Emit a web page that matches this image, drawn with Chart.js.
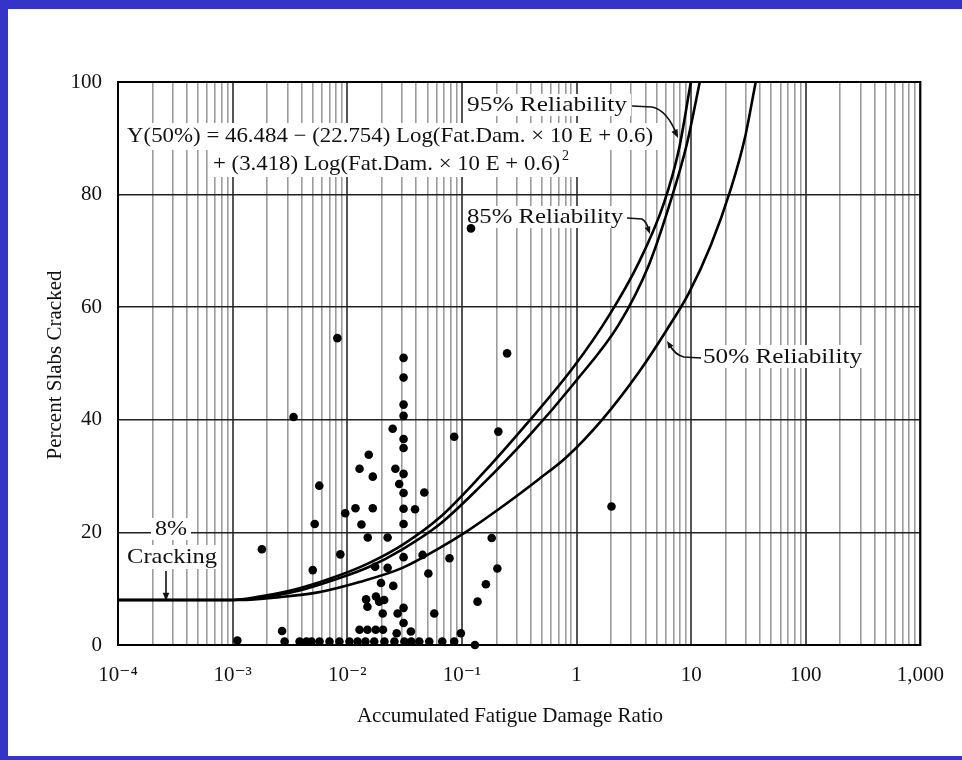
<!DOCTYPE html>
<html>
<head>
<meta charset="utf-8">
<script src="https://cdn.jsdelivr.net/npm/chart.js@4.4.1/dist/chart.umd.min.js"></script>
<style>
  html, body { margin: 0; padding: 0; background: #fff; }
  #wrap { position: relative; width: 962px; height: 760px; }
</style>
</head>
<body>
<div id="wrap"><canvas id="fatigueChart" width="962" height="760"></canvas></div>
<script>
// axes
var xDecades = [1e-4, 1e-3, 1e-2, 1e-1, 1, 10, 100, 1000];
var xDecadeLabels = ['10\u207B\u2074', '10\u207B\u00B3', '10\u207B\u00B2', '10\u207B\u00B9', '1', '10', '100', '1,000'];
var yTicks = [0, 20, 40, 60, 80, 100];

// field sections (fatigue damage, % slabs cracked)
var fieldDamage = [
  0.0011, 0.0018, 0.0027, 0.00284, 0.0034, 0.00384, 0.00441, 0.00488, 0.0050, 0.0052,
  0.00573, 0.0057, 0.0070, 0.0082, 0.0087, 0.00855, 0.0096, 0.01045, 0.0118, 0.0123,
  0.0128, 0.0128, 0.0133, 0.0144, 0.0146, 0.0150, 0.0150, 0.0151, 0.0154, 0.0167,
  0.0167, 0.0172, 0.0175, 0.0177, 0.0178, 0.0190, 0.0197, 0.0204, 0.0205, 0.0210,
  0.0211, 0.0225, 0.0225, 0.0249, 0.0252, 0.0258, 0.0263, 0.0270, 0.0275, 0.0284,
  0.031, 0.031, 0.031, 0.031, 0.031, 0.031, 0.031, 0.031, 0.031, 0.031,
  0.031, 0.031, 0.031, 0.0315, 0.0359, 0.0362, 0.039, 0.0425, 0.0454, 0.047,
  0.051, 0.0519, 0.0574, 0.0674, 0.078, 0.0857, 0.0857, 0.098, 0.12, 0.13,
  0.137, 0.162, 0.182, 0.204, 0.208, 0.248, 2.02
];
var fieldCracked = [
  0.8, 17, 2.5, 0.6, 40.5, 0.6, 0.6, 0.6, 13.3, 21.5,
  0.6, 28.3, 0.6, 54.5, 16.1, 0.6, 23.4, 0.6, 24.3, 0.6,
  31.3, 2.7, 21.4, 0.6, 8.1, 6.8, 2.7, 19.1, 33.8, 29.9,
  24.3, 0.6, 13.9, 2.7, 8.6, 7.7, 11.0, 5.6, 2.7, 8.0,
  0.6, 19.1, 13.7, 38.4, 10.5, 0.6, 31.3, 2.1, 5.6, 28.6,
  51, 47.5, 42.7, 40.7, 36.6, 35, 30.4, 27, 24.2, 21.5,
  15.6, 6.6, 3.9, 0.6, 2.4, 0.6, 24.1, 0.6, 16.0, 27.1,
  12.7, 0.6, 5.6, 0.6, 15.4, 37, 0.6, 2.1, 74, 0,
  7.7, 10.8, 19.0, 13.6, 37.9, 51.8, 24.6
];

// reliability curves
var rel95Damage = [0.0001, 0.001, 0.00172, 0.00384, 0.00857, 0.0156, 0.0303, 0.0636, 0.142, 0.387, 0.953, 1.92, 3.51, 5.79, 7.82, 9.94];
var rel95Cracked = [8, 8, 8.6, 10.1, 12.4, 14.6, 17.8, 22.6, 29.8, 39.8, 49.5, 58.5, 68, 78.5, 88, 100];
var rel85Damage = [0.0001, 0.001, 0.00172, 0.00384, 0.00857, 0.0156, 0.0303, 0.0636, 0.142, 0.387, 0.953, 2.35, 4.28, 6.66, 9.18, 11.9];
var rel85Cracked = [8, 8, 8.4, 9.7, 11.9, 13.9, 17.0, 21.4, 28, 37.2, 46.5, 57, 67.5, 79, 89, 100];
var rel50Damage = [0.0001, 0.00115, 0.00257, 0.0054, 0.0128, 0.0303, 0.0636, 0.107, 0.212, 0.472, 0.811, 1.67, 3.51, 6.14, 9.55, 14.85, 22.2, 29.4, 36.6];
var rel50Cracked = [8, 8, 8.5, 9.3, 11.2, 13.7, 17.2, 20, 24.2, 29.5, 33.3, 40, 48.5, 56, 62.5, 71, 81, 90, 100];

function pairs(xs, ys) {
  return xs.map(function(x, i) { return {x: x, y: ys[i]}; });
}

function isDecade(v) {
  var l = Math.log10(v);
  return Math.abs(l - Math.round(l)) < 1e-9;
}

var SERIF = '"Liberation Serif", "DejaVu Serif", serif';

function fitText(ctx, text, left, cy, width, size) {
  ctx.font = size + 'px ' + SERIF;
  var w = ctx.measureText(text).width;
  ctx.save();
  ctx.translate(left, cy);
  ctx.scale(width / w, 1);
  ctx.textAlign = 'left';
  ctx.textBaseline = 'middle';
  ctx.fillText(text, 0, 0);
  ctx.restore();
}

function arrowHead(ctx, fx, fy, tx, ty, size) {
  var a = Math.atan2(ty - fy, tx - fx);
  ctx.beginPath();
  ctx.moveTo(tx, ty);
  ctx.lineTo(tx - size * Math.cos(a - 0.38), ty - size * Math.sin(a - 0.38));
  ctx.lineTo(tx - size * Math.cos(a + 0.38), ty - size * Math.sin(a + 0.38));
  ctx.closePath();
  ctx.fill();
}

var framePlugin = {
  id: 'frame',
  beforeDraw: function(chart) {
    var ctx = chart.ctx;
    ctx.save();
    ctx.fillStyle = '#fff';
    ctx.fillRect(0, 0, chart.width, chart.height);
    ctx.fillStyle = '#3434c8';
    ctx.fillRect(0, 0, chart.width, 9);
    ctx.fillRect(0, 0, 8, chart.height);
    ctx.fillRect(0, chart.height - 4, chart.width, 4);
    ctx.restore();
  },
  beforeDatasetsDraw: function(chart) {
    var ctx = chart.ctx, a = chart.chartArea;
    ctx.save();
    // white patches behind the lettering
    ctx.fillStyle = '#fff';
    ctx.fillRect(122, 123, 536, 27);
    ctx.fillRect(208, 150, 370, 27);
    ctx.fillRect(463, 94, 168, 22);
    ctx.fillRect(463, 206, 164, 22);
    ctx.fillRect(699, 345, 167, 23);
    ctx.fillRect(151, 518, 40, 22);
    ctx.fillRect(124, 545, 97, 24);

    ctx.fillStyle = '#111';
    fitText(ctx, 'Y(50%) = 46.484 \u2212 (22.754) Log(Fat.Dam. \u00D7 10 E + 0.6)', 127, 136, 526, 21);
    fitText(ctx, '+ (3.418) Log(Fat.Dam. \u00D7 10 E + 0.6)', 213, 164, 347, 21);
    ctx.font = '14px ' + SERIF;
    ctx.textBaseline = 'middle';
    ctx.fillText('2', 562, 156);
    fitText(ctx, '95% Reliability', 467, 105, 160, 21);
    fitText(ctx, '85% Reliability', 467, 217, 156, 21);
    fitText(ctx, '50% Reliability', 703, 357, 159, 21);
    fitText(ctx, '8%', 155, 529, 32, 21);
    fitText(ctx, 'Cracking', 127, 557, 90, 21);

    // leaders
    ctx.strokeStyle = '#111';
    ctx.lineWidth = 1.6;
    ctx.beginPath();
    ctx.moveTo(632, 106); ctx.lineTo(652, 107);
    ctx.quadraticCurveTo(667, 110, 677, 135);
    ctx.stroke();
    arrowHead(ctx, 669, 118, 678, 138, 9);
    ctx.beginPath();
    ctx.moveTo(627, 218); ctx.lineTo(642, 219);
    ctx.quadraticCurveTo(647, 222, 649, 231);
    ctx.stroke();
    arrowHead(ctx, 646, 223, 650, 234, 8);
    ctx.beginPath();
    ctx.moveTo(701, 358); ctx.lineTo(684, 357);
    ctx.quadraticCurveTo(675, 355, 669, 344);
    ctx.stroke();
    arrowHead(ctx, 674, 352, 667, 341, 8);
    ctx.beginPath();
    ctx.moveTo(166, 571); ctx.lineTo(166, 596);
    ctx.stroke();
    arrowHead(ctx, 166, 585, 166, 601, 9);

    // axis titles
    ctx.fillStyle = '#111';
    ctx.font = '21px ' + SERIF;
    ctx.textAlign = 'center';
    ctx.textBaseline = 'middle';
    ctx.fillText('Accumulated Fatigue Damage Ratio', 510, 716);
    ctx.save();
    ctx.translate(55, 365);
    ctx.rotate(-Math.PI / 2);
    ctx.fillText('Percent Slabs Cracked', 0, 0);
    ctx.restore();

    // plot frame
    ctx.strokeStyle = '#000';
    ctx.lineWidth = 2;
    ctx.strokeRect(a.left, a.top, a.right - a.left, a.bottom - a.top);
    ctx.restore();
  }
};

var ctx = document.getElementById('fatigueChart').getContext('2d');
var fatigueChart = new Chart(ctx, {
  type: 'scatter',
  data: {
    datasets: [{
      label: 'Field sections',
      data: pairs(fieldDamage, fieldCracked),
      pointRadius: 4.3,
      pointBackgroundColor: '#000',
      pointBorderWidth: 0,
      showLine: false,
      clip: false
    }, {
      label: '95% Reliability',
      data: pairs(rel95Damage, rel95Cracked),
      showLine: true,
      pointRadius: 0,
      borderColor: '#000',
      borderWidth: 2.6,
      cubicInterpolationMode: 'monotone',
      fill: false
    }, {
      label: '85% Reliability',
      data: pairs(rel85Damage, rel85Cracked),
      showLine: true,
      pointRadius: 0,
      borderColor: '#000',
      borderWidth: 2.6,
      cubicInterpolationMode: 'monotone',
      fill: false
    }, {
      label: '50% Reliability',
      data: pairs(rel50Damage, rel50Cracked),
      showLine: true,
      pointRadius: 0,
      borderColor: '#000',
      borderWidth: 2.6,
      cubicInterpolationMode: 'monotone',
      fill: false
    }]
  },
  options: {
    responsive: false,
    animation: false,
    devicePixelRatio: 1,
    layout: { padding: { left: 0, right: 40, top: 82, bottom: 0 } },
    plugins: {
      legend: { display: false },
      tooltip: { enabled: false }
    },
    scales: {
      x: {
        type: 'logarithmic',
        min: xDecades[0],
        max: xDecades[xDecades.length - 1],
        afterBuildTicks: function(scale) {
          var t = [];
          for (var e = -4; e <= 2; e++) {
            for (var k = 1; k <= 9; k++) t.push({ value: k * Math.pow(10, e) });
          }
          t.push({ value: 1000 });
          scale.ticks = t;
        },
        afterFit: function(scale) { scale.height = 115; },
        grid: {
          drawTicks: false,
          color: function(c) { return c.tick && isDecade(c.tick.value) ? '#555' : '#9c9c9c'; },
          lineWidth: function(c) { return c.tick && isDecade(c.tick.value) ? 2 : 1.6; }
        },
        border: { color: '#000', width: 2 },
        ticks: {
          autoSkip: false,
          maxRotation: 0,
          padding: 18,
          color: '#111',
          font: { family: SERIF, size: 21 },
          callback: function(value) {
            if (!isDecade(value)) return '';
            var i = xDecades.findIndex(function(d) { return Math.abs(Math.log10(d) - Math.log10(value)) < 1e-6; });
            return i >= 0 ? xDecadeLabels[i] : '';
          }
        }
      },
      y: {
        type: 'linear',
        min: yTicks[0],
        max: yTicks[yTicks.length - 1],
        afterBuildTicks: function(scale) {
          scale.ticks = yTicks.map(function(v) { return { value: v }; });
        },
        afterFit: function(scale) { scale.width = 118; },
        grid: { drawTicks: false, color: '#222', lineWidth: 1.6 },
        border: { color: '#000', width: 2 },
        ticks: {
          padding: 16,
          color: '#111',
          font: { family: SERIF, size: 21 }
        }
      }
    }
  },
  plugins: [framePlugin]
});
</script>
</body>
</html>
